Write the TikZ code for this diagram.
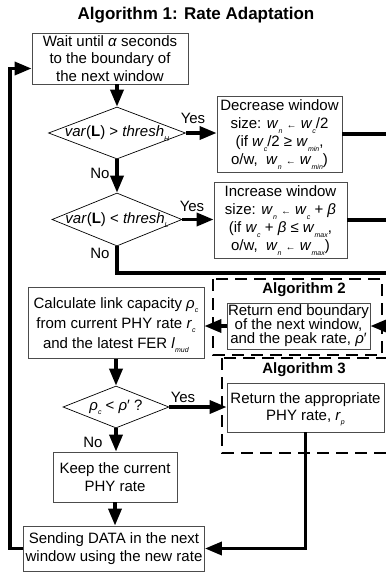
\documentclass[tikz,border=0pt]{standalone}
\usepackage{fontspec}
\setmainfont{Liberation Sans}
\usetikzlibrary{arrows.meta,shapes.geometric}

\newcommand{\lo}[1]{\raisebox{-0.28em}[0pt][0pt]{\fontsize{7}{7}\selectfont\textit{#1}}}
\newcommand{\la}{{\fontsize{10}{10}\selectfont ←}}

\tikzset{
  box/.style={draw=black!70, line width=0.8pt, align=center, inner sep=0pt, font={\fontsize{15}{17.5}\selectfont}},
  dia/.style={draw, shape=diamond, line width=0.7pt, inner sep=0pt, font={\fontsize{15}{17}\selectfont}},
  lbl/.style={font={\fontsize{15}{17}\selectfont}},
  hd/.style={font={\fontsize{15}{17}\selectfont\bfseries}},
  arr/.style={line width=3.5pt, -{Triangle[length=17pt,width=13pt]}},
  bar/.style={line width=3.5pt},
  grp/.style={line width=2pt, dash pattern=on 12pt off 7pt}
}

\begin{document}
\begin{tikzpicture}[x=1pt, y=-1pt, auto]

    \path[use as bounding box] (0, 0) rectangle (386, 574);
    \clip (0, 0) rectangle (386, 574);

    \node[font={\fontsize{17}{20}\selectfont\bfseries}] (t) at (196, 15) {Algorithm 1: Rate Adaptation};

    % dashed frames of the called algorithms
    \draw[grp] (213, 279) rectangle (382, 355);
    \draw[grp] (222, 358) rectangle (400, 453);
    \node[hd] (h2) at (304, 290) {Algorithm 2};
    \node[hd] (h3) at (304, 370) {Algorithm 3};

    \node[box, minimum width=156, minimum height=51] (a) at (110, 58.5) {Wait until \textit{α} seconds\\ to the boundary of\\ the next window};
    \node[dia, minimum width=137, minimum height=52] (d1) at (117, 133) {\makebox[0pt]{\textit{var}(\textbf{L}) > \textit{thresh}\lo{H}}};
    \node[box, minimum width=125, minimum height=76, font={\fontsize{15}{18}\selectfont}] (b) at (279.5, 134) {Decrease window\\ size: \textit{w}\lo{n} \la{} \textit{w}\lo{c}/2\\ (if \textit{w}\lo{c}/2 ≥ \textit{w}\lo{min},\\ o/w,\ \ \textit{w}\lo{n} \la{} \textit{w}\lo{min})};
    \node[dia, minimum width=130, minimum height=53] (d2) at (117, 219.5) {\makebox[0pt]{\textit{var}(\textbf{L}) < \textit{thresh}\lo{L}}};
    \node[box, minimum width=133, minimum height=76, font={\fontsize{15}{18}\selectfont}] (c) at (280.5, 220) {Increase window\\ size: \textit{w}\lo{n} \la{} \textit{w}\lo{c} + \textit{β}\\ (if \textit{w}\lo{c} + \textit{β} ≤ \textit{w}\lo{max},\\ o/w,\ \ \textit{w}\lo{n} \la{} \textit{w}\lo{max})};

    \node[box, minimum width=176, minimum height=71, font={\fontsize{15}{20}\selectfont}] (e) at (116, 323) {Calculate link capacity \textit{ρ}\lo{c}\\ from current PHY rate \textit{r}\lo{c}\\ and the latest FER \textit{l}\lo{mud}};
    \node[box, minimum width=143, minimum height=46, font={\fontsize{15}{14}\selectfont}] (f) at (298.5, 326) {Return end boundary\\ of the next window,\\ and the peak rate, \textit{ρ}′};
    \node[dia, minimum width=106, minimum height=42] (d3) at (116, 407) {\makebox[0pt]{\textit{ρ}\lo{c} < \textit{ρ}′ ?}};
    \node[box, minimum width=157, minimum height=49] (g) at (305.5, 407.5) {Return the appropriate\\ PHY rate, \textit{r}\lo{p}};
    \node[box, minimum width=124, minimum height=50] (k) at (115, 477) {Keep the current\\ PHY rate};
    \node[box, minimum width=181, minimum height=45] (s) at (114, 548.5) {Sending DATA in the next\\ window using the new rate};

    \node[lbl] (y1) at (193, 118) {Yes};
    \node[lbl] (n1) at (100, 173) {No};
    \node[lbl] (y2) at (192, 206) {Yes};
    \node[lbl] (n2) at (100, 253) {No};
    \node[lbl] (y3) at (183, 397) {Yes};
    \node[lbl] (n3) at (93, 442) {No};

    \coordinate (x1) at (400, 134);
    \coordinate (x2) at (400, 220);
    \coordinate (x3) at (400, 273);
    \coordinate (x4) at (400, 326);

    \draw [arr] (a.south -| d1.north) to (d1.north);
    \draw [arr] (d1.east) to (d1.east -| b.west);
    \draw [bar] (b.east) to (x1);
    \draw [arr] (d1.south) to (d2.north);
    \draw [arr] (d2.east) to (d2.east -| c.west);
    \draw [bar] (c.east) to (x2);
    \draw [bar] (d2.south) |- (x3);
    \draw [arr] (x4) to (f.east);
    \draw [arr] (f.west) to (f.west -| e.east);
    \draw [arr] (e.south) to (d3.north);
    \draw [arr] (d3.east) to (d3.east -| g.west);
    \draw [arr] (d3.south) to (d3.south |- k.north);
    \draw [arr] (k.south) to (k.south |- s.north);
    \draw [arr] (g.south) |- (s.east);
    \draw [arr] (s.west) -- ++(-13, 0) |- ([yshift=-10pt]a.west);

  \end{tikzpicture}
\end{document}
